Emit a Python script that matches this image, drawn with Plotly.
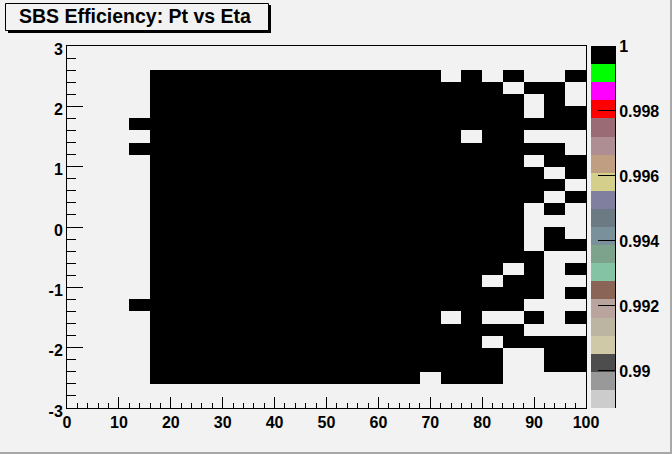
import plotly.graph_objects as go

# ---------------- data ----------------
title_text = "SBS Efficiency: Pt vs Eta"

# Pt bin edges (x) and Eta bin edges (y)
pt_edges = [0, 4, 8, 12, 16, 20, 24, 28, 32, 36, 40, 44, 48, 52, 56, 60,
            64, 68, 72, 76, 80, 84, 88, 92, 96, 100]
eta_edges = [-3.0, -2.8, -2.6, -2.4, -2.2, -2.0, -1.8, -1.6, -1.4, -1.2, -1.0,
             -0.8, -0.6, -0.4, -0.2, 0.0, 0.2, 0.4, 0.6, 0.8, 1.0,
             1.2, 1.4, 1.6, 1.8, 2.0, 2.2, 2.4, 2.6, 2.8, 3.0]

# filled bins ('#', efficiency = 1) and empty bins ('.'), rows from eta=+3 (top) to eta=-3 (bottom)
# each row: columns Pt 0-4, 4-8, ..., 96-100
FULL_MID = "#" * 13          # Pt 16..68 always filled inside |eta|<2.6
occupancy_rows_top_to_bottom = [
    "." * 25,                                   # 2.8 .. 3.0
    "." * 25,                                   # 2.6 .. 2.8
    "...." + FULL_MID + "#.#.#..#",             # 2.4 .. 2.6
    "...." + FULL_MID + "####.##.",             # 2.2 .. 2.4
    "...." + FULL_MID + "#####.#.",             # 2.0 .. 2.2
    "...." + FULL_MID + "#####.##",             # 1.8 .. 2.0
    "...#" + FULL_MID + "########",             # 1.6 .. 1.8
    "...." + FULL_MID + "##.##...",             # 1.4 .. 1.6
    "...#" + FULL_MID + "#######.",             # 1.2 .. 1.4
    "...." + FULL_MID + "#####.##",             # 1.0 .. 1.2
    "...." + FULL_MID + "######.#",             # 0.8 .. 1.0
    "...." + FULL_MID + "#######.",             # 0.6 .. 0.8
    "...." + FULL_MID + "######.#",             # 0.4 .. 0.6
    "...." + FULL_MID + "#####.#.",             # 0.2 .. 0.4
    "...." + FULL_MID + "#####...",             # 0.0 .. 0.2
    "...." + FULL_MID + "#####.#.",             # -0.2 .. 0.0
    "...." + FULL_MID + "#####.##",             # -0.4 .. -0.2
    "...." + FULL_MID + "######..",             # -0.6 .. -0.4
    "...." + FULL_MID + "####.#.#",             # -0.8 .. -0.6
    "...." + FULL_MID + "###.##..",             # -1.0 .. -0.8
    "...." + FULL_MID + "######.#",             # -1.2 .. -1.0
    "...#" + FULL_MID + "#####...",             # -1.4 .. -1.2
    "...." + FULL_MID + "#.#..#.#",             # -1.6 .. -1.4
    "...." + FULL_MID + "#####...",             # -1.8 .. -1.6
    "...." + FULL_MID + "###.####",             # -2.0 .. -1.8
    "...." + FULL_MID + "####..##",             # -2.2 .. -2.0
    "...." + FULL_MID + "####..##",             # -2.4 .. -2.2
    "...." + FULL_MID + ".###....",             # -2.6 .. -2.4
    "." * 25,                                   # -2.8 .. -2.6
    "." * 25,                                   # -3.0 .. -2.8
]
filled_efficiency = 1.0

# colour axis (ROOT palette, 20 contour bands)
z_min = 0.98886
z_max = 1.0
palette_bottom_to_top = [
    "#cccccc", "#999999", "#4d4d4d", "#cfc9a7", "#bcb5a1",
    "#b9a49e", "#8a6456", "#84c4a5", "#7ea38d", "#7a919c",
    "#6c7a83", "#817fa0", "#d4d08c", "#bf9e82", "#ae8e92",
    "#9a6b74", "#ff0000", "#ff00ff", "#00ff00", "#000000",
]
cbar_tickvals = [0.99, 0.992, 0.994, 0.996, 0.998, 1.0]
cbar_ticktext = ["0.99", "0.992", "0.994", "0.996", "0.998", "1"]
x_tickvals = [0, 10, 20, 30, 40, 50, 60, 70, 80, 90, 100]
x_ticktext = ["0", "10", "20", "30", "40", "50", "60", "70", "80", "90", "100"]
y_tickvals = [-3, -2, -1, 0, 1, 2, 3]
y_ticktext = ["-3", "-2", "-1", "0", "1", "2", "3"]

# ---------------- build figure ----------------
z = []
for row in reversed(occupancy_rows_top_to_bottom):
    z.append([filled_efficiency if ch == "#" else None for ch in row])

n = len(palette_bottom_to_top)
colorscale = []
for k, c in enumerate(palette_bottom_to_top):
    colorscale.append([k / n, c])
    colorscale.append([(k + 1) / n, c])

# colour-bar bands (drawn as a one-column heatmap on its own axis)
band_w = (z_max - z_min) / n
band_edges = [z_min + k * band_w for k in range(n + 1)]
band_vals = [[z_min + (k + 0.5) * band_w] for k in range(n)]

W, H = 672, 454
L, R, T, B = 67, 0, 46, 46
PLOT_RIGHT = 586
CB_LEFT, CB_RIGHT = 591, 615
PW = W - L - R            # paper width in px
PH = H - T - B


def px_x(p):
    return (p - L) / PW


def px_y(p):
    return (H - B - p) / PH


FONT = "Liberation Sans, Arial, Helvetica, sans-serif"
BG = "#f2f2f2"
TICKFONT = dict(family=FONT, size=16, color="black", weight="bold")

fig = go.Figure()
fig.add_trace(go.Heatmap(
    x=pt_edges, y=eta_edges, z=z,
    zmin=z_min, zmax=z_max,
    colorscale=colorscale,
    hoverongaps=False,
    showscale=False,
    xaxis="x", yaxis="y",
))
fig.add_trace(go.Heatmap(
    x=[0, 1], y=band_edges, z=band_vals,
    zmin=z_min, zmax=z_max,
    colorscale=colorscale,
    showscale=False,
    hoverinfo="skip",
    xaxis="x2", yaxis="y2",
))

axis_common = dict(
    showgrid=False, zeroline=False, automargin=False,
    showline=True, linecolor="black", linewidth=1, mirror=True,
    ticks="inside", tickcolor="black", tickwidth=1,
    tickfont=TICKFONT,
)

fig.update_layout(
    xaxis=dict(
        domain=[0, px_x(PLOT_RIGHT)], anchor="y",
        range=[0, 100], tickmode="array", tickvals=x_tickvals, ticktext=x_ticktext,
        ticklen=11,
        minor=dict(ticks="inside", dtick=2, tick0=0, ticklen=5.5, tickcolor="black",
                   tickwidth=1, showgrid=False),
        **axis_common,
    ),
    yaxis=dict(
        domain=[0, 1], anchor="x",
        range=[-3, 3], tickmode="array", tickvals=y_tickvals, ticktext=y_ticktext,
        ticklen=16, ticklabelshift=3,
        minor=dict(ticks="inside", dtick=0.2, tick0=0, ticklen=9, tickcolor="black",
                   tickwidth=1, showgrid=False),
        **axis_common,
    ),
    xaxis2=dict(
        domain=[px_x(CB_LEFT), px_x(CB_RIGHT)], anchor="y2",
        range=[0, 1], visible=False, automargin=False,
    ),
    yaxis2=dict(
        domain=[0, 1], anchor="x2", side="right",
        range=[z_min, z_max], tickmode="array",
        tickvals=cbar_tickvals, ticktext=cbar_ticktext,
        showgrid=False, zeroline=False, automargin=False,
        showline=True, linecolor="black", linewidth=1, mirror=False,
        ticks="inside", ticklen=17, tickcolor="black", tickwidth=1,
        tickfont=TICKFONT,
    ),
)

shapes = [
    # title box shadow + box
    dict(type="rect", xref="paper", yref="paper", x0=px_x(8), x1=px_x(271), y0=px_y(33), y1=px_y(5),
         fillcolor="black", line=dict(width=0)),
    dict(type="rect", xref="paper", yref="paper", x0=px_x(5.5), x1=px_x(268.5), y0=px_y(30.5), y1=px_y(3.5),
         fillcolor=BG, line=dict(color="black", width=1)),
    # canvas bevel
    dict(type="rect", xref="paper", yref="paper", x0=px_x(0), x1=px_x(672), y0=px_y(454), y1=px_y(452),
         fillcolor="#a8a8a8", line=dict(width=0)),
    dict(type="rect", xref="paper", yref="paper", x0=px_x(670), x1=px_x(672), y0=px_y(454), y1=px_y(0),
         fillcolor="#a8a8a8", line=dict(width=0)),
]

fig.update_layout(
    template="none",
    width=W, height=H, autosize=False,
    margin=dict(l=L, r=R, t=T, b=B, pad=0),
    paper_bgcolor=BG, plot_bgcolor=BG,
    showlegend=False,
    shapes=shapes,
    annotations=[dict(
        text=title_text, xref="paper", yref="paper",
        x=px_x(135), y=px_y(16), xanchor="center", yanchor="middle",
        showarrow=False,
        font=dict(family=FONT, size=19.5, color="black", weight="bold"),
    )],
)

fig.write_html(
    "out.html",
    config={"displayModeBar": False},
    post_script="document.body.style.margin='0';document.body.style.overflow='hidden';",
)
